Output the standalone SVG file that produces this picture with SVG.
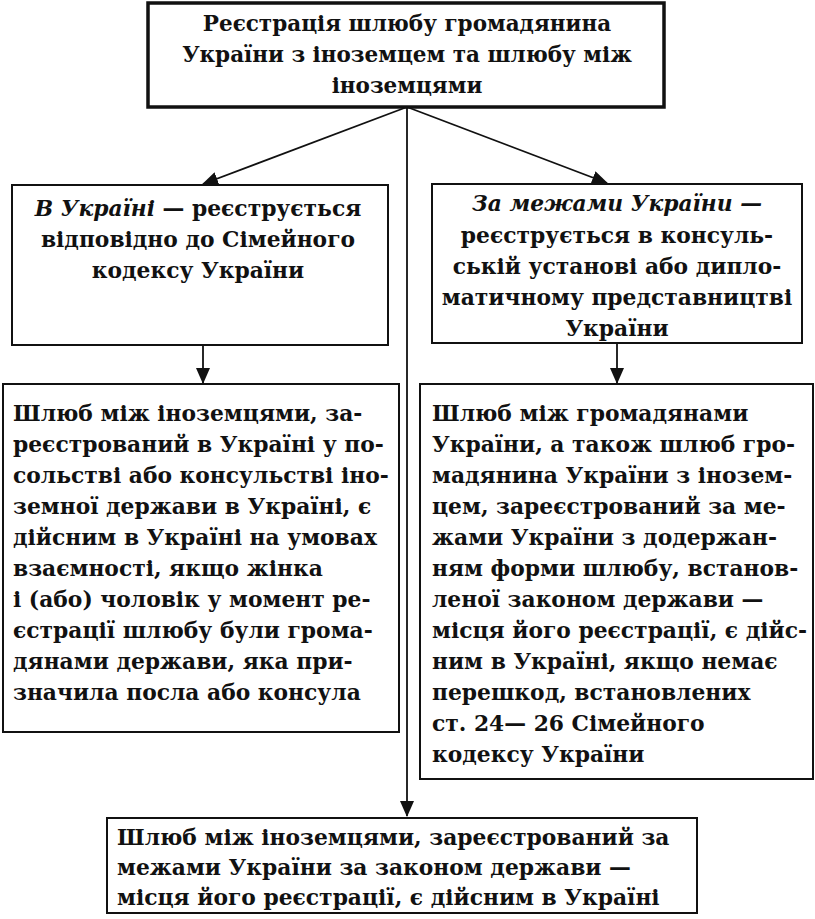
<svg xmlns="http://www.w3.org/2000/svg" width="815" height="919" viewBox="0 0 815 919">
<style>
text{font-family:"DejaVu Serif","Liberation Serif",serif;font-weight:bold;font-size:21.8px;fill:#111}
.c{text-anchor:middle}
.h{font-size:21.5px;font-weight:900}
.i{font-style:italic}
.box{fill:#fff;stroke:#111;stroke-width:2}
.top{stroke-width:3.5}
.ln{stroke:#111;stroke-width:1.8;fill:none}
</style>
<defs>
<marker id="ah" markerWidth="16" markerHeight="14" refX="15" refY="7" orient="auto" markerUnits="userSpaceOnUse">
<path d="M0,0 L16,7 L0,14 z" fill="#111"/>
</marker>
</defs>
<g id="connectors">
<line class="ln" x1="407" y1="107" x2="203" y2="184" marker-end="url(#ah)"/>
<line class="ln" x1="407" y1="107" x2="607" y2="183" marker-end="url(#ah)"/>
<line class="ln" x1="407" y1="107" x2="407" y2="816" marker-end="url(#ah)"/>
<line class="ln" x1="203" y1="345" x2="203" y2="383" marker-end="url(#ah)"/>
<line class="ln" x1="617" y1="343" x2="617" y2="383" marker-end="url(#ah)"/>
</g>
<g id="top">
<rect class="box top" x="148" y="3" width="516" height="104"/>
<text class="c h" x="407" y="31">Реєстрація шлюбу громадянина</text>
<text class="c h" x="407" y="62">України з іноземцем та шлюбу між</text>
<text class="c h" x="407" y="93">іноземцями</text>
</g>
<g id="in-ukraine">
<rect class="box" x="12" y="185" width="376" height="160"/>
<text class="c" x="198" y="216"><tspan class="i">В Україні</tspan> — реєструється</text>
<text class="c" x="198" y="247">відповідно до Сімейного</text>
<text class="c" x="198" y="278">кодексу України</text>
</g>
<g id="abroad">
<rect class="box" x="432" y="184" width="370" height="159"/>
<text class="c i" x="617" y="211">За межами України —</text>
<text class="c" x="617" y="243">реєструється в консуль-</text>
<text class="c" x="617" y="274">ській установі або дипло-</text>
<text class="c" x="617" y="305">матичному представництві</text>
<text class="c" x="617" y="336">України</text>
</g>
<g id="left-lower">
<rect class="box" x="3" y="384" width="396" height="348"/>
<text x="13" y="421">Шлюб між іноземцями, за-</text>
<text x="13" y="452">реєстрований в Україні у по-</text>
<text x="13" y="483">сольстві або консульстві іно-</text>
<text x="13" y="514">земної держави в Україні, є</text>
<text x="13" y="545">дійсним в Україні на умовах</text>
<text x="13" y="576">взаємності, якщо жінка</text>
<text x="13" y="607">і (або) чоловік у момент ре-</text>
<text x="13" y="638">єстрації шлюбу були грома-</text>
<text x="13" y="669">дянами держави, яка при-</text>
<text x="13" y="700">значила посла або консула</text>
</g>
<g id="right-lower">
<rect class="box" x="420" y="384" width="393" height="395"/>
<text x="432" y="421">Шлюб між громадянами</text>
<text x="432" y="452">України, а також шлюб гро-</text>
<text x="432" y="483">мадянина України з інозем-</text>
<text x="432" y="514">цем, зареєстрований за ме-</text>
<text x="432" y="545">жами України з додержан-</text>
<text x="432" y="576">ням форми шлюбу, встанов-</text>
<text x="432" y="607">леної законом держави —</text>
<text x="432" y="638">місця його реєстрації, є дійс-</text>
<text x="432" y="669">ним в Україні, якщо немає</text>
<text x="432" y="700">перешкод, встановлених</text>
<text x="432" y="731">ст. 24— 26 Сімейного</text>
<text x="432" y="762">кодексу України</text>
</g>
<g id="bottom">
<rect class="box" x="107" y="818" width="590" height="95"/>
<text x="117" y="845">Шлюб між іноземцями, зареєстрований за</text>
<text x="117" y="875">межами України за законом  держави —</text>
<text x="117" y="905">місця його реєстрації, є дійсним в Україні</text>
</g>
</svg>
